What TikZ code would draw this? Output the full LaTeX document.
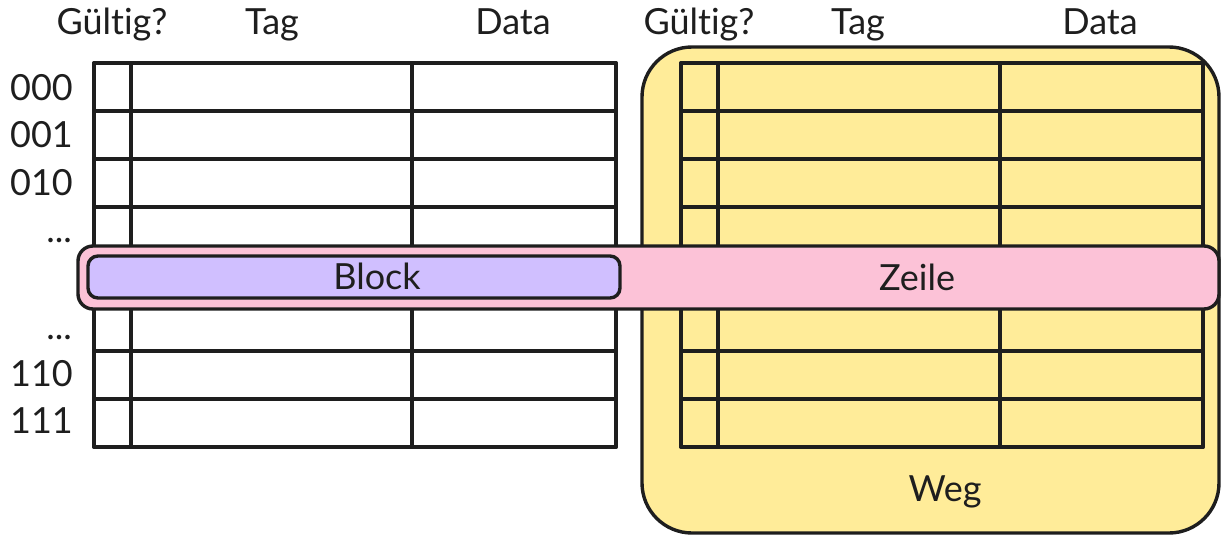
\documentclass[tikz,border=0pt]{standalone}
\usepackage{fontspec}
\setmainfont{Lato}[Ligatures={NoCommon}]
\definecolor{ink}{HTML}{1E1E1E}
\definecolor{wegfill}{HTML}{FFEC99}
\definecolor{zeilefill}{HTML}{FCC2D7}
\definecolor{blockfill}{HTML}{D0BFFF}
\tikzset{
  label text/.style={text=ink, font=\fontsize{36}{42}\selectfont, inner sep=0pt},
  grid line/.style={draw=ink, line width=3.6pt, line cap=round, line join=round},
  region/.style={draw=ink, line width=3.4pt},
}
% draws one cache table (8 rows; valid / tag / data columns)
% #1 left edge, #2 and #3 column separators, #4 right edge
\newcommand{\cachetable}[4]{%
  \foreach \r in {0,...,8}{
    \draw[grid line] (#1,63+48*\r) -- (#4,63+48*\r);
  }
  \draw[grid line] (#1,63) -- (#1,447);
  \draw[grid line] (#2,63) -- (#2,447);
  \draw[grid line] (#3,63) -- (#3,447);
  \draw[grid line] (#4,63) -- (#4,447);
}
\begin{document}
\begin{tikzpicture}[x=1pt,y=-1pt]
  \useasboundingbox (0,0) rectangle (1221,535);
  \fill[white] (0,0) rectangle (1221,535);

  % the way (Weg): second table on a yellow panel
  \draw[region, fill=wegfill, rounded corners=50pt] (642,47) rectangle (1219,533);
  \node[label text, anchor=base] (weg) at (945,501) {Weg};

  % tables
  \cachetable{94}{131}{412}{616}
  \cachetable{681}{718}{1000}{1203}

  % column headers
  \node[label text, anchor=base] (hv1) at (112,35) {Gültig?};
  \node[label text, anchor=base] (ht1) at (272,35) {Tag};
  \node[label text, anchor=base] (hd1) at (513,35) {Data};
  \node[label text, anchor=base] (hv2) at (699,35) {Gültig?};
  \node[label text, anchor=base] (ht2) at (858,35) {Tag};
  \node[label text, anchor=base] (hd2) at (1100,35) {Data};

  % set indices
  \node[label text, anchor=base east] (i000) at (73,100) {000};
  \node[label text, anchor=base east] (i001) at (73,147) {001};
  \node[label text, anchor=base east] (i010) at (73,195) {010};
  \node[label text, anchor=base east] (idots1) at (72,242) {...};
  \node[label text, anchor=base east] (idots2) at (72,339) {...};
  \node[label text, anchor=base east] (i110) at (73,386) {110};
  \node[label text, anchor=base east] (i111) at (73,433) {111};

  % the line (Zeile) across both ways
  \draw[region, fill=zeilefill, rounded corners=15pt] (78,246) rectangle (1219,309);
  \node[label text, anchor=base] (zeile) at (917,290) {Zeile};

  % the block within one way
  \draw[region, fill=blockfill, rounded corners=10pt] (88,256) rectangle (620,298);
  \node[label text, anchor=base] (block) at (377,289) {Block};
\end{tikzpicture}
\end{document}
